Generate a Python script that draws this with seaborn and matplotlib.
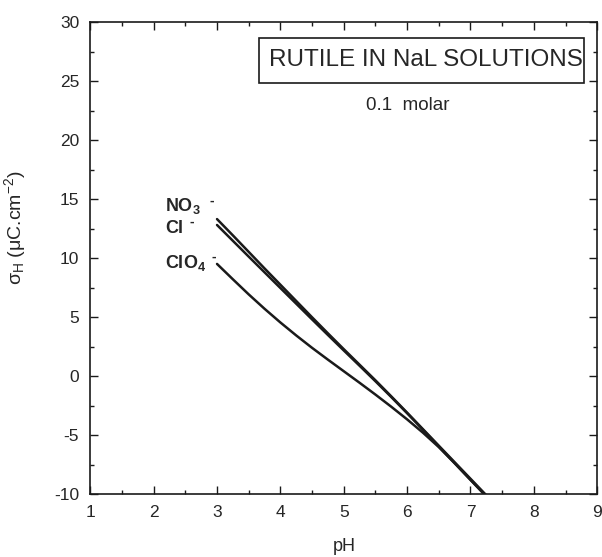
import numpy as np
import pandas as pd
import matplotlib
matplotlib.use("Agg")
import matplotlib.pyplot as plt
from matplotlib.patches import Rectangle
from matplotlib.ticker import MultipleLocator
import seaborn as sns

# Surface charge of rutile vs pH in 0.1 M sodium salt solutions
ph = [3.0, 3.25, 3.5, 3.75, 4.0, 4.25, 4.5, 4.75, 5.0, 5.25, 5.5, 5.75,
      6.0, 6.25, 6.5, 6.75, 7.0, 7.25]
sigma_no3 = [13.3, 11.92, 10.52, 9.12, 7.74, 6.36, 4.98, 3.62, 2.28, 0.96, -0.36, -1.72,
             -3.1, -4.5, -5.9, -7.3, -8.7, -10.1]
sigma_cl = [12.8, 11.46, 10.12, 8.79, 7.46, 6.13, 4.8, 3.48, 2.17, 0.87, -0.44, -1.78,
            -3.15, -4.55, -5.97, -7.38, -8.8, -10.2]
sigma_clo4 = [9.5, 8.2, 6.92, 5.70, 4.54, 3.44, 2.39, 1.39, 0.41, -0.57, -1.57, -2.60,
              -3.67, -4.80, -6.02, -7.38, -8.78, -10.18]

ions = ["NO3", "Cl", "ClO4"]
ion_labels = [r"$\mathregular{NO_3}$", r"$\mathregular{Cl}$", r"$\mathregular{ClO_4}$"]
x_ticks = [1, 2, 3, 4, 5, 6, 7, 8, 9]
y_ticks = [-10, -5, 0, 5, 10, 15, 20, 25, 30]

df = pd.concat([
    pd.DataFrame({"pH": ph, "sigma": s, "ion": name})
    for name, s in zip(ions, [sigma_no3, sigma_cl, sigma_clo4])
], ignore_index=True)

sns.set_style("ticks")
plt.rcParams["font.family"] = ["Liberation Sans", "DejaVu Sans"]
plt.rcParams["mathtext.fontset"] = "custom"
plt.rcParams["mathtext.rm"] = "Liberation Sans"
plt.rcParams["mathtext.it"] = "Liberation Sans:italic"
plt.rcParams["mathtext.bf"] = "Liberation Sans:bold"
plt.rcParams["axes.unicode_minus"] = False

fig = plt.figure(figsize=(6.02, 5.57), dpi=100)
ax = fig.add_axes([0.150, 0.113, 0.842, 0.8475])

sns.lineplot(data=df, x="pH", y="sigma", hue="ion", units="ion",
             estimator=None, palette=["#1a1a1a"] * 3, linewidth=1.8,
             legend=False, ax=ax, sort=False)

ax.set_xlim(1, 9)
ax.set_ylim(-10, 30)
ax.set_xticks(x_ticks)
ax.set_yticks(y_ticks)
ax.xaxis.set_minor_locator(MultipleLocator(0.5))
ax.yaxis.set_minor_locator(MultipleLocator(2.5))
ax.tick_params(which="both", direction="in", top=True, right=True,
               labeltop=False, labelright=False, color="#1a1a1a")
ax.tick_params(which="major", length=6, width=1.0, labelsize=12.5, pad=8)
ax.tick_params(which="minor", length=3, width=1.0)
for sp in ax.spines.values():
    sp.set_linewidth(1.2)
    sp.set_color("#1a1a1a")

ax.set_xlabel("pH", fontsize=13)
ax.xaxis.set_label_coords(0.502, -0.094)
ax.set_ylabel(r"$\mathregular{\sigma_H}$ ($\mathregular{\mu}$C.cm$\mathregular{^{-2}}$)",
              fontsize=14)
ax.yaxis.set_label_coords(-0.122, 0.564)

# Anion labels next to the start of each curve
label_pos = [(2.18, 14.0), (2.18, 12.1), (2.18, 9.15)]
for lab, (lx, ly) in zip(ion_labels, label_pos):
    ax.text(lx, ly, lab, fontsize=13, fontweight="bold", ha="left", va="baseline")
ax.text(2.88, 14.85, "-", fontsize=10, fontweight="bold", ha="left", va="center")
ax.text(2.56, 13.05, "-", fontsize=10, fontweight="bold", ha="left", va="center")
ax.text(2.92, 10.1, "-", fontsize=10, fontweight="bold", ha="left", va="center")

# Title box
ax.add_patch(Rectangle((0.3327, 0.8708), 0.641, 0.0952, transform=ax.transAxes,
                       fill=False, edgecolor="#1a1a1a", linewidth=1.2))
ax.text(0.663, 0.919, "RUTILE IN NaL SOLUTIONS", transform=ax.transAxes,
        fontsize=17.5, ha="center", va="center")
ax.text(0.627, 0.824, "0.1  molar", transform=ax.transAxes,
        fontsize=13.5, ha="center", va="center")

fig.savefig("out.png", dpi=100)
